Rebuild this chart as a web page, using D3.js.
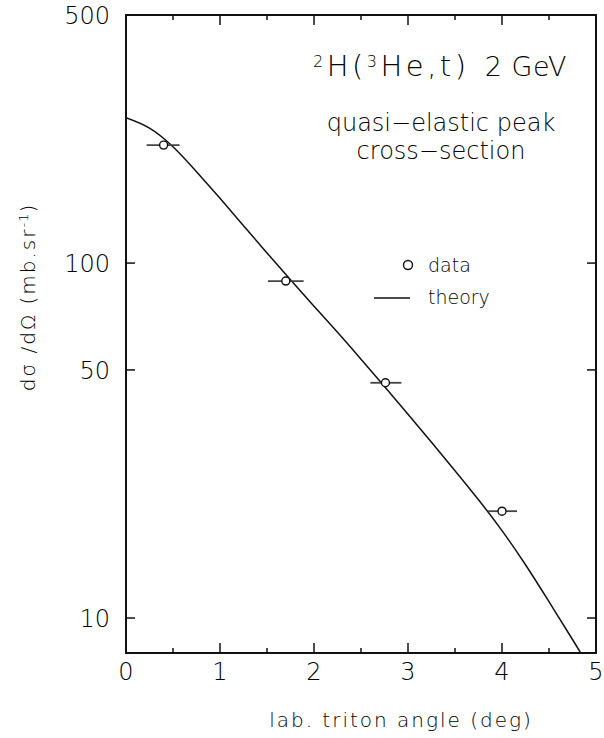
<!DOCTYPE html>
<html><head><meta charset="utf-8">
<script src="https://cdn.jsdelivr.net/npm/d3@7"></script>
<style>
body{margin:0;background:#fff;}
text{font-family:"DejaVu Sans","Liberation Sans",sans-serif;font-weight:200;fill:#000;}
</style></head>
<body><svg id="c" width="604" height="738"></svg>
<script>
// data points
const dataAngle = [0.40, 1.70, 2.76, 4.00];
const dataXS    = [215, 89, 46, 20.0];
const dataErrLo = [0.22, 1.51, 2.60, 3.85];
const dataErrHi = [0.57, 1.89, 2.93, 4.16];
// theory curve
const theoryAngle = [0, 0.25, 0.5, 0.75, 1.0, 1.25, 1.5, 1.75, 2.0, 2.25, 2.5, 2.75, 3.0, 3.25, 3.5, 3.75, 4.0, 4.25, 4.5, 4.75, 4.9];
const theoryXS    = [256.8, 240, 212.6, 180.9, 152.2, 127.5, 106.8, 89.7, 75.6, 63.8, 53.6, 44.9, 37.5, 31.27, 26.01, 21.54, 17.63, 14.13, 11.12, 8.70, 7.48];
// ticks
const xTicks = [0, 1, 2, 3, 4, 5];
const xMinor = [0.5, 1.5, 2.5, 3.5, 4.5];
const yTicks = [10, 50, 100, 500];

const svg = d3.select("#c");
const L = 126, R = 596, T = 15, B = 653;
const x = d3.scaleLinear().domain([0, 5]).range([L, R]);
const y = d3.scaleLog().domain([7.97, 500]).range([B, T]);

svg.append("defs").append("clipPath").attr("id","clip")
  .append("rect").attr("x",L).attr("y",T).attr("width",R-L).attr("height",B-T);

const g = svg.append("g");
// ticks
const tk = g.append("g").attr("stroke","#111").attr("stroke-width",1.5);
xTicks.forEach(v=>{
  tk.append("line").attr("x1",x(v)).attr("x2",x(v)).attr("y1",B).attr("y2",B-10);
  tk.append("line").attr("x1",x(v)).attr("x2",x(v)).attr("y1",T).attr("y2",T+10);
});
xMinor.forEach(v=>{
  tk.append("line").attr("x1",x(v)).attr("x2",x(v)).attr("y1",B).attr("y2",B-5);
  tk.append("line").attr("x1",x(v)).attr("x2",x(v)).attr("y1",T).attr("y2",T+5);
});
yTicks.forEach(v=>{
  tk.append("line").attr("x1",L).attr("x2",L+9).attr("y1",y(v)).attr("y2",y(v));
  tk.append("line").attr("x1",R).attr("x2",R-9).attr("y1",y(v)).attr("y2",y(v));
});
// frame
g.append("rect").attr("x",L).attr("y",T).attr("width",R-L).attr("height",B-T)
  .attr("fill","none").attr("stroke","#111").attr("stroke-width",2);

// tick labels
xTicks.forEach(v=>{
  g.append("text").attr("x",x(v)).attr("y",B+27).attr("text-anchor","middle")
   .attr("font-size",24).text(d3.format("d")(v));
});
yTicks.forEach(v=>{
  g.append("text").attr("x",L-16).attr("y",y(v)+9).attr("text-anchor","end")
   .attr("font-size",24).text(d3.format("d")(v));
});

// axis titles
g.append("text").attr("x",401).attr("y",727).attr("text-anchor","middle")
 .attr("font-size",20).attr("letter-spacing",2).text("lab. triton angle (deg)");
const yl = g.append("text").attr("transform","translate(35,297) rotate(-90)")
 .attr("text-anchor","middle").attr("font-size",20).attr("letter-spacing",2);
yl.append("tspan").text("dσ /dΩ  (mb.sr");
yl.append("tspan").attr("baseline-shift","super").attr("font-size",13).attr("letter-spacing",1).text("-1");
yl.append("tspan").text(")");

// theory curve
const line = d3.line().x((d,i)=>x(theoryAngle[i])).y((d,i)=>y(theoryXS[i])).curve(d3.curveNatural);
g.append("path").datum(theoryXS).attr("d",line).attr("clip-path","url(#clip)")
 .attr("fill","none").attr("stroke","#111").attr("stroke-width",1.5);

// data with error bars
dataAngle.forEach((a,i)=>{
  g.append("line").attr("x1",x(dataErrLo[i])).attr("x2",x(dataErrHi[i]))
   .attr("y1",y(dataXS[i])).attr("y2",y(dataXS[i])).attr("stroke","#444").attr("stroke-width",1.8);
  g.append("circle").attr("cx",x(a)).attr("cy",y(dataXS[i])).attr("r",4)
   .attr("fill","#fff").attr("stroke","#111").attr("stroke-width",1.4);
});

// annotations
const t1 = g.append("text").attr("x",313).attr("y",76).attr("font-size",29).attr("letter-spacing",3.5);
t1.append("tspan").attr("baseline-shift","super").attr("font-size",16).text("2");
t1.append("tspan").text("H(");
t1.append("tspan").attr("baseline-shift","super").attr("font-size",16).text("3");
t1.append("tspan").text("He,t)");
g.append("text").attr("x",567).attr("y",76).attr("text-anchor","end").attr("font-size",27).attr("letter-spacing",0.5).text("2 GeV");
g.append("text").attr("x",441).attr("y",131).attr("text-anchor","middle").attr("font-size",24).text("quasi−elastic peak");
g.append("text").attr("x",441).attr("y",159).attr("text-anchor","middle").attr("font-size",24).text("cross−section");

// legend
g.append("circle").attr("cx",408).attr("cy",265).attr("r",4.5).attr("fill","#fff").attr("stroke","#111").attr("stroke-width",1.4);
g.append("text").attr("x",428).attr("y",272).attr("font-size",19).text("data");
g.append("line").attr("x1",374).attr("x2",410).attr("y1",298).attr("y2",298).attr("stroke","#111").attr("stroke-width",1.5);
g.append("text").attr("x",428).attr("y",304).attr("font-size",19).text("theory");
</script></body></html>
